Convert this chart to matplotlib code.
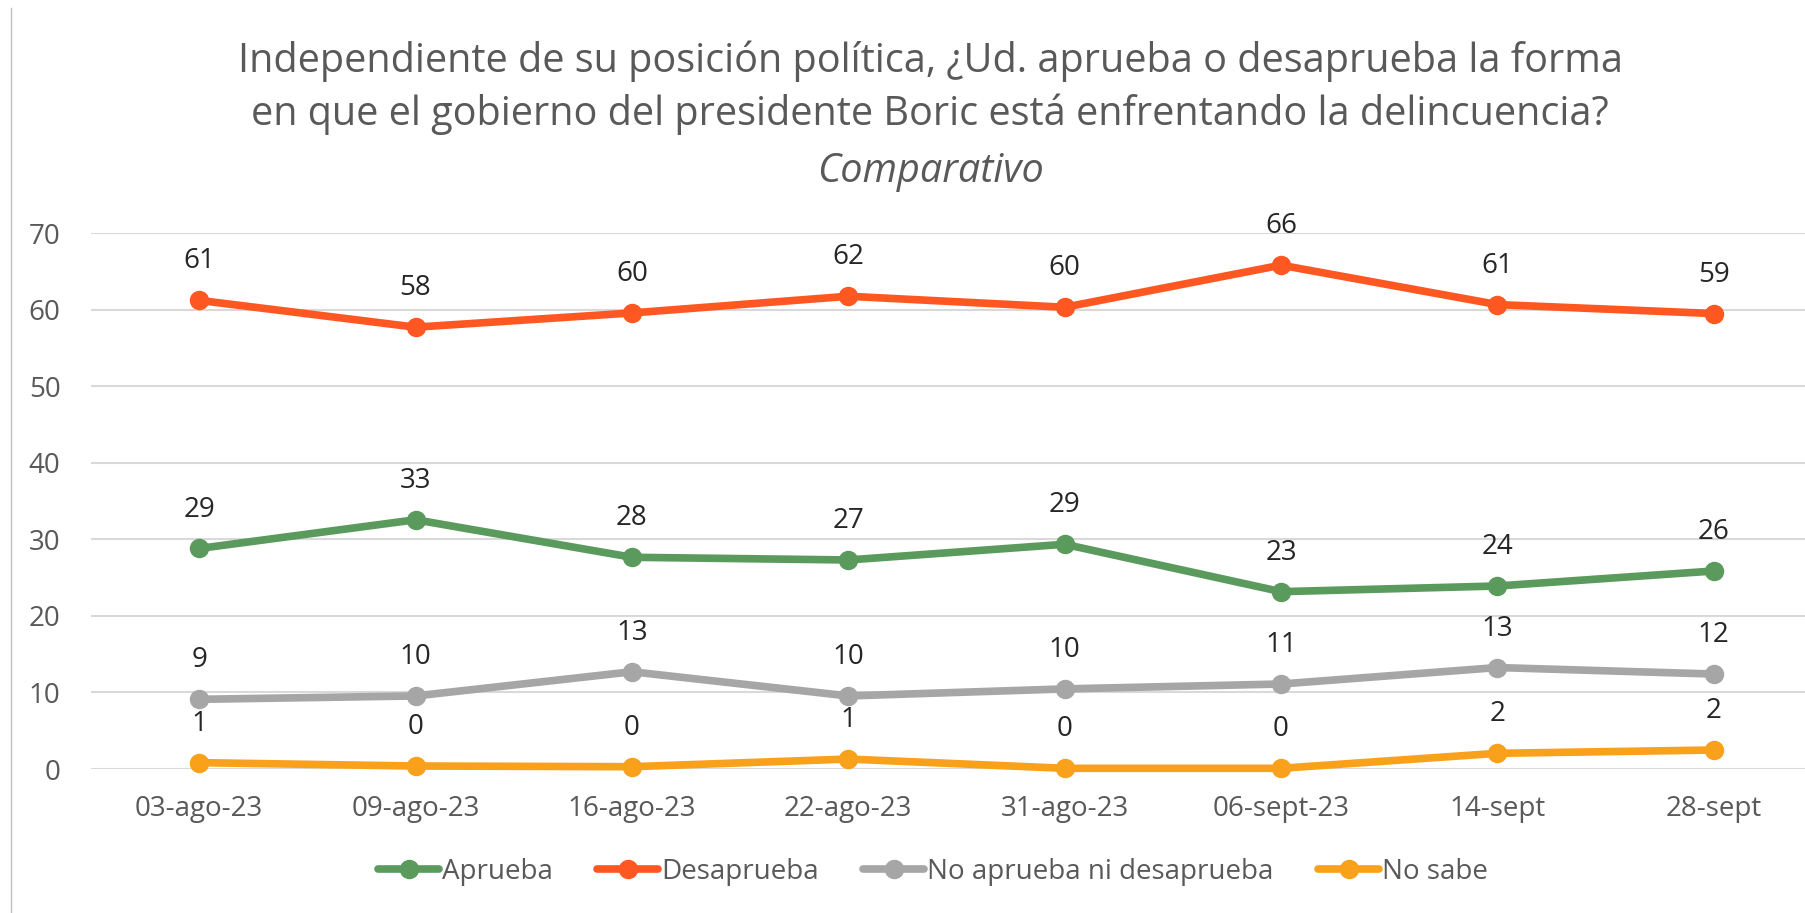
import matplotlib
matplotlib.use("Agg")
import matplotlib.pyplot as plt
from matplotlib.lines import Line2D

plt.rcParams["font.family"] = ["Open Sans", "DejaVu Sans"]

FIG_W, FIG_H = 1806, 913

fechas = ["03-ago-23", "09-ago-23", "16-ago-23", "22-ago-23",
          "31-ago-23", "06-sept-23", "14-sept", "28-sept"]

aprueba = [28.8, 32.55, 27.65, 27.3, 29.35, 23.16, 23.9, 25.86]
desaprueba = [61.2, 57.7, 59.56, 61.74, 60.3, 65.8, 60.65, 59.48]
ni_ni = [9.1, 9.54, 12.7, 9.54, 10.46, 11.1, 13.25, 12.4]
no_sabe = [0.83, 0.39, 0.3, 1.3, 0.09, 0.09, 2.05, 2.48]

series = ["Aprueba", "Desaprueba", "No aprueba ni desaprueba", "No sabe"]
colores = ["#5b9a5d", "#ff5722", "#a6a6a6", "#f9a11b"]
yticks = [0, 10, 20, 30, 40, 50, 60, 70]

fig = plt.figure(figsize=(FIG_W / 100, FIG_H / 100), dpi=100)
ax = fig.add_axes([91 / FIG_W, 1 - 769 / FIG_H,
                   (1822 - 91) / FIG_W, (769 - 233) / FIG_H])

x = list(range(len(fechas)))
for nombre, valores, color in zip(series, [aprueba, desaprueba, ni_ni, no_sabe], colores):
    ax.plot(x, valores, color=color, lw=5.5, marker="o", ms=13,
            label=nombre, clip_on=False, zorder=3, solid_capstyle="round")
    for xi, v in zip(x, valores):
        ax.annotate(f"{v:.0f}", (xi, v), xytext=(0, 28), textcoords="offset points",
                    ha="center", va="center", fontsize=20, color="#262626")

ax.set_xlim(-0.5, len(fechas) - 0.5)
ax.set_ylim(0, 70)
ax.set_yticks(yticks)
ax.set_xticks(x)
ax.set_xticklabels(fechas)
ax.tick_params(axis="both", length=0, labelsize=20, labelcolor="#595959")
ax.tick_params(axis="y", pad=22)
ax.tick_params(axis="x", pad=19)
ax.grid(axis="y", color="#d9d9d9", lw=1.5)
ax.set_axisbelow(True)
for s in ax.spines.values():
    s.set_visible(False)

fig.add_artist(Line2D([11 / FIG_W, 11 / FIG_W], [0, 1 - 8 / FIG_H], color="#bfbfbf", lw=1))

fig.text(930 / FIG_W, 1 - 61 / FIG_H,
         "Independiente de su posición política, ¿Ud. aprueba o desaprueba la forma",
         ha="center", va="center", fontsize=28.5, color="#595959")
fig.text(930 / FIG_W, 1 - 114 / FIG_H,
         "en que el gobierno del presidente Boric está enfrentando la delincuencia?",
         ha="center", va="center", fontsize=28.5, color="#595959")
fig.text(930 / FIG_W, 1 - 172 / FIG_H, "Comparativo",
         ha="center", va="center", fontsize=28.5, color="#595959", style="italic")

fig.legend(loc="center", bbox_to_anchor=(933 / FIG_W, 1 - 872 / FIG_H), ncol=4,
           frameon=False, fontsize=20, labelcolor="#595959", handlelength=2.2,
           handletextpad=0.1, columnspacing=1.6)

fig.savefig("out.png", dpi=100, facecolor="white")
